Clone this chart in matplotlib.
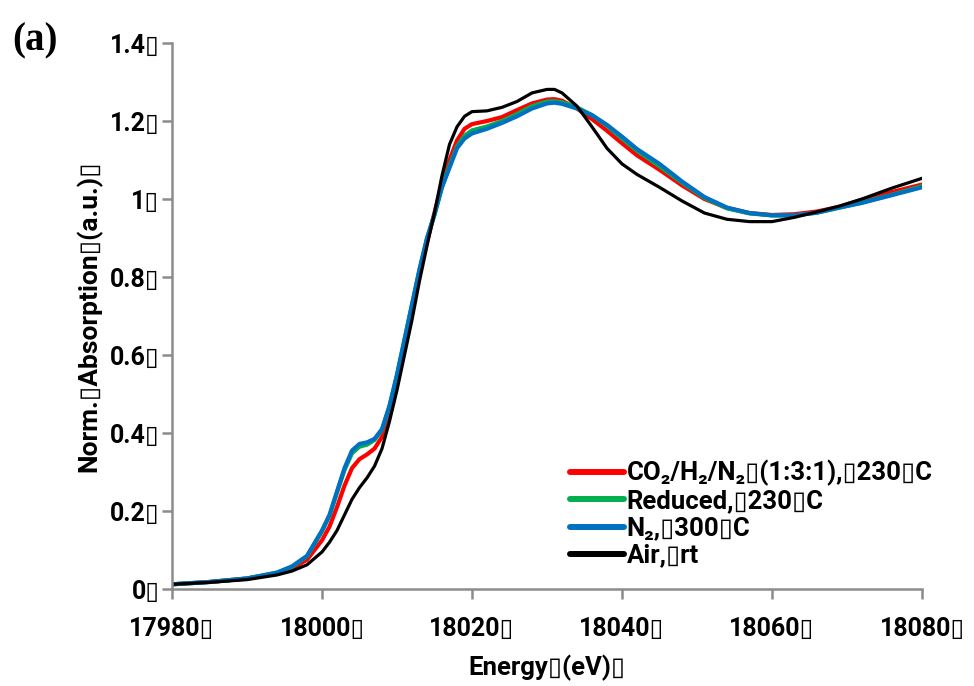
import numpy as np
import matplotlib
matplotlib.use('Agg')
import matplotlib.pyplot as plt

# energy grid (eV) shared by all spectra
energy = [17980, 17985, 17990, 17994, 17996, 17998, 18000, 18001, 18002, 18003,
          18004, 18005, 18006, 18007, 18008, 18009, 18010, 18011, 18012, 18013,
          18014, 18015, 18016, 18017, 18018, 18019, 18020, 18022, 18024, 18026,
          18028, 18030, 18031, 18032, 18034, 18036, 18038, 18040, 18042, 18045,
          18048, 18051, 18054, 18057, 18060, 18063, 18066, 18069, 18072, 18076,
          18080]

co2_h2_n2 = [0.012, 0.018, 0.027, 0.040, 0.053, 0.075, 0.125, 0.160, 0.210, 0.265,
             0.310, 0.333, 0.345, 0.360, 0.390, 0.455, 0.540, 0.630, 0.720, 0.810,
             0.890, 0.965, 1.040, 1.100, 1.150, 1.180, 1.192, 1.200, 1.210, 1.228,
             1.245, 1.255, 1.256, 1.252, 1.232, 1.205, 1.175, 1.143, 1.112, 1.075,
             1.035, 1.000, 0.977, 0.964, 0.959, 0.961, 0.968, 0.980, 0.998, 1.018,
             1.037]

reduced = [0.012, 0.018, 0.027, 0.042, 0.057, 0.084, 0.148, 0.188, 0.247, 0.305,
           0.348, 0.365, 0.370, 0.382, 0.408, 0.468, 0.548, 0.638, 0.728, 0.818,
           0.898, 0.960, 1.032, 1.085, 1.135, 1.162, 1.176, 1.186, 1.200, 1.218,
           1.238, 1.250, 1.251, 1.248, 1.235, 1.215, 1.188, 1.155, 1.124, 1.084,
           1.042, 1.003, 0.976, 0.963, 0.958, 0.958, 0.965, 0.978, 0.991, 1.011,
           1.033]

n2_300 = [0.012, 0.018, 0.027, 0.042, 0.058, 0.085, 0.150, 0.190, 0.250, 0.310,
          0.355, 0.372, 0.376, 0.385, 0.410, 0.470, 0.550, 0.640, 0.730, 0.820,
          0.900, 0.960, 1.030, 1.080, 1.130, 1.155, 1.168, 1.180, 1.195, 1.212,
          1.232, 1.245, 1.247, 1.244, 1.232, 1.215, 1.190, 1.160, 1.128, 1.090,
          1.045, 1.005, 0.978, 0.964, 0.958, 0.958, 0.965, 0.978, 0.990, 1.010,
          1.030]

air_rt = [0.012, 0.017, 0.024, 0.036, 0.046, 0.062, 0.095, 0.120, 0.150, 0.190,
          0.230, 0.260, 0.285, 0.315, 0.360, 0.430, 0.510, 0.600, 0.690, 0.790,
          0.880, 0.965, 1.060, 1.140, 1.185, 1.212, 1.224, 1.226, 1.235, 1.250,
          1.272, 1.281, 1.281, 1.272, 1.238, 1.185, 1.130, 1.090, 1.063, 1.030,
          0.995, 0.964, 0.948, 0.942, 0.942, 0.953, 0.967, 0.982, 1.000, 1.028,
          1.053]

# the reference shows a missing-glyph box after most words; U+25AF stands in for it
box = '\u25af'
labels = ['CO\u2082/H\u2082/N\u2082' + box + '(1:3:1),' + box + '230' + box + 'C',
          'Reduced,' + box + '230' + box + 'C',
          'N\u2082,' + box + '300' + box + 'C',
          'Air,' + box + 'rt']
xticks = [17980, 18000, 18020, 18040, 18060, 18080]
yticks = [0, 0.2, 0.4, 0.6, 0.8, 1.0, 1.2, 1.4]
ytick_labels = ['0', '0.2', '0.4', '0.6', '0.8', '1', '1.2', '1.4']

plt.rcParams['font.family'] = ['Roboto', 'DejaVu Sans']
plt.rcParams['font.weight'] = 'bold'
plt.rcParams['axes.labelweight'] = 'bold'

grey = '#8c8c8c'
fs = 18
fig = plt.figure(figsize=(9.74, 6.86), dpi=100)
ax = fig.add_axes([172/974, 1-589/686, 750/974, 546/686])

ax.plot(energy, co2_h2_n2, color='#ff0000', lw=3.0, label=labels[0])
ax.plot(energy, reduced, color='#00b050', lw=3.0, label=labels[1])
ax.plot(energy, n2_300, color='#0070c0', lw=3.0, label=labels[2])
ax.plot(energy, air_rt, color='black', lw=2.3, label=labels[3])

ax.set_xlim(17980, 18080)
ax.set_ylim(0, 1.4)
ax.set_xticks(xticks)
ax.set_xticklabels([str(t) + box for t in xticks])
ax.set_yticks(yticks)
ax.set_yticklabels([t + box for t in ytick_labels])

for s in ['top', 'right']:
    ax.spines[s].set_visible(False)
for s in ['left', 'bottom']:
    ax.spines[s].set_color(grey)
    ax.spines[s].set_linewidth(1.8)
ax.tick_params(axis='both', colors=grey, width=1.8, length=7, labelsize=fs,
               labelcolor='black')
ax.tick_params(axis='x', pad=13)
ax.tick_params(axis='y', pad=2)

ax.set_xlabel('Energy' + box + '(eV)' + box, fontsize=18.5, labelpad=10)
ax.set_ylabel('Norm.' + box + 'Absorption' + box + '(a.u.)' + box, fontsize=19,
              labelpad=5)

fig.text(12/974, 1-50/686, '(a)', fontsize=28, fontweight='bold',
         family=['Liberation Serif', 'DejaVu Serif'])

leg = fig.legend(loc='upper left', bbox_to_anchor=(570/974, 1-460/686),
                 frameon=False, fontsize=18.5, handlelength=2.1, handletextpad=0.1,
                 labelspacing=0.12, borderpad=0, borderaxespad=0)
for h in leg.get_lines():
    h.set_linewidth(4.3)
    h.set_solid_capstyle('round')

fig.savefig('out.png', dpi=100)
